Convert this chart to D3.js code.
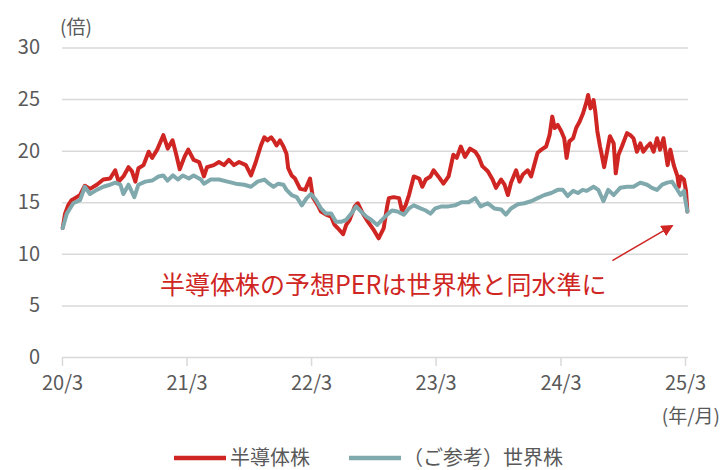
<!DOCTYPE html>
<html>
<head>
<meta charset="utf-8">
<script src="https://cdn.jsdelivr.net/npm/d3@7"></script>
<style>
  body { margin: 0; background: #fff; }
  svg { display: block; }
  text { font-family: "Noto Sans CJK JP", "Noto Sans", sans-serif; }
</style>
</head>
<body>
<div id="chart"></div>
<script>
// 半導体株 forward PER
const semiDates = ["2020-03-03","2020-03-10","2020-03-19","2020-03-29","2020-04-13","2020-04-23","2020-05-07","2020-05-22","2020-06-11","2020-06-30",
  "2020-07-20","2020-08-04","2020-08-14","2020-08-28","2020-09-12","2020-09-22","2020-10-02","2020-10-11","2020-10-26","2020-11-10",
  "2020-11-20","2020-12-05","2020-12-23","2021-01-05","2021-01-19","2021-01-30","2021-02-09","2021-02-23","2021-03-06","2021-03-22",
  "2021-04-07","2021-04-21","2021-04-30","2021-05-20","2021-06-04","2021-06-19","2021-07-03","2021-07-18","2021-08-02","2021-08-22",
  "2021-09-06","2021-09-20","2021-10-05","2021-10-15","2021-10-24","2021-11-04","2021-11-11","2021-11-20","2021-11-30","2021-12-10",
  "2021-12-19","2021-12-24","2022-01-03","2022-01-13","2022-01-28","2022-02-12","2022-02-26","2022-03-06","2022-03-21","2022-03-30",
  "2022-04-14","2022-04-29","2022-05-09","2022-05-18","2022-06-03","2022-06-12","2022-06-22","2022-07-07","2022-07-16","2022-07-31",
  "2022-08-15","2022-08-30","2022-09-15","2022-09-30","2022-10-10","2022-10-15","2022-10-29","2022-11-14","2022-11-23","2022-12-03",
  "2022-12-13","2022-12-27","2023-01-12","2023-01-21","2023-01-31","2023-02-14","2023-02-23","2023-03-09","2023-03-24","2023-04-08",
  "2023-04-22","2023-05-02","2023-05-14","2023-05-26","2023-06-10","2023-06-25","2023-07-05","2023-07-16","2023-08-01","2023-08-15",
  "2023-08-25","2023-09-09","2023-09-19","2023-09-29","2023-10-08","2023-10-23","2023-11-02","2023-11-12","2023-11-26","2023-12-06",
  "2023-12-15","2023-12-25","2024-01-05","2024-01-19","2024-01-29","2024-02-06","2024-02-13","2024-02-22","2024-03-03","2024-03-12",
  "2024-03-19","2024-03-27","2024-04-07","2024-04-16","2024-04-26","2024-05-06","2024-05-17","2024-05-21","2024-05-28","2024-06-06",
  "2024-06-11","2024-06-17","2024-06-25","2024-06-30","2024-07-07","2024-07-15","2024-07-24","2024-08-04","2024-08-10","2024-08-18",
  "2024-08-28","2024-09-12","2024-09-22","2024-10-01","2024-10-11","2024-10-21","2024-10-30","2024-11-10","2024-11-19","2024-11-29",
  "2024-12-09","2024-12-18","2024-12-28","2025-01-09","2025-01-17","2025-01-27","2025-02-07","2025-02-11","2025-02-16","2025-02-26",
  "2025-03-04","2025-03-08"];
const semiPer = [12.5,13.9,14.7,15.2,15.5,15.7,16.6,16.3,16.7,17.2,
  17.3,18.1,17.0,17.5,18.4,18.0,17.0,18.3,18.6,19.9,
  19.3,20.1,21.5,20.2,21.0,19.6,18.2,19.4,20.1,19.1,
  18.9,17.5,18.4,18.6,18.9,18.6,19.1,18.6,18.9,18.6,
  17.6,18.9,20.5,21.3,21.0,21.3,21.0,20.5,21.0,20.4,
  19.7,18.3,17.6,17.3,16.3,16.2,17.3,15.5,14.7,14.1,
  13.8,13.6,12.8,12.5,11.9,12.8,13.3,14.6,14.9,13.9,
  13.1,12.4,11.5,12.5,14.6,15.4,15.5,15.4,14.1,14.7,
  15.7,17.5,17.3,16.5,17.2,17.5,18.1,17.5,16.8,17.5,
  19.6,19.3,20.4,19.4,20.2,19.9,19.4,18.5,18.0,17.2,
  16.4,17.2,16.7,15.7,16.9,18.1,17.0,17.7,18.1,17.5,
  18.6,19.8,20.1,20.4,21.5,23.3,22.2,22.5,21.9,21.2,
  19.3,20.9,21.2,22.2,22.8,23.6,24.8,25.4,24.1,24.9,
  23.8,21.9,20.4,19.6,18.4,19.8,21.4,20.7,17.8,19.6,
  20.4,21.7,21.5,21.2,19.9,20.7,19.9,20.4,20.7,19.9,
  21.2,20.1,21.2,18.6,20.1,18.6,17.5,16.5,17.5,17.2,
  16.1,14.1];

// （ご参考）世界株 forward PER
const worldDates = ["2020-03-03","2020-03-15","2020-04-03","2020-04-23","2020-05-07","2020-05-22","2020-06-11","2020-06-30","2020-07-20","2020-08-04",
  "2020-08-19","2020-08-28","2020-09-12","2020-09-29","2020-10-11","2020-10-31","2020-11-20","2020-12-09","2020-12-23","2021-01-04",
  "2021-01-20","2021-02-04","2021-02-18","2021-03-08","2021-03-22","2021-04-12","2021-04-21","2021-05-11","2021-06-04","2021-06-29",
  "2021-07-23","2021-08-17","2021-09-06","2021-09-25","2021-10-15","2021-10-29","2021-11-11","2021-11-25","2021-12-10","2021-12-19",
  "2022-01-03","2022-01-18","2022-02-02","2022-02-16","2022-03-01","2022-03-16","2022-03-30","2022-04-14","2022-04-29","2022-05-13",
  "2022-05-28","2022-06-12","2022-06-27","2022-07-11","2022-07-26","2022-08-10","2022-08-24","2022-09-11","2022-09-25","2022-10-10",
  "2022-10-24","2022-11-09","2022-11-28","2022-12-13","2022-12-27","2023-01-16","2023-01-31","2023-02-14","2023-02-28","2023-03-19",
  "2023-04-08","2023-04-27","2023-05-16","2023-06-06","2023-06-25","2023-07-11","2023-08-01","2023-08-20","2023-09-09","2023-09-23",
  "2023-10-08","2023-10-28","2023-11-16","2023-12-06","2023-12-25","2024-01-14","2024-02-03","2024-02-22","2024-03-08","2024-03-22",
  "2024-04-07","2024-04-21","2024-05-05","2024-05-17","2024-06-06","2024-06-20","2024-07-05","2024-07-19","2024-08-04","2024-08-23",
  "2024-09-12","2024-10-01","2024-10-21","2024-11-10","2024-11-24","2024-12-09","2024-12-24","2025-01-08","2025-01-22","2025-02-01",
  "2025-02-16","2025-02-26","2025-03-01","2025-03-08"];
const worldPer = [12.5,13.9,14.9,15.2,16.5,15.8,16.2,16.5,16.7,16.9,
  16.7,15.8,16.7,15.5,16.7,17.0,17.1,17.5,17.6,17.1,
  17.6,17.2,17.6,17.3,17.6,17.2,16.8,17.2,17.2,17.0,
  16.8,16.7,16.5,17.0,17.2,16.8,16.5,16.8,16.7,16.2,
  15.7,15.5,14.7,15.4,15.8,15.2,14.4,13.9,13.9,13.1,
  13.1,13.3,13.9,14.6,14.1,13.6,13.3,12.8,13.3,13.8,
  14.2,14.1,13.8,14.4,14.7,14.4,14.2,13.9,14.4,14.6,
  14.6,14.7,15.0,15.0,15.4,14.6,14.9,14.4,14.3,13.8,
  14.4,14.8,14.9,15.1,15.4,15.7,15.9,16.2,16.2,15.6,
  16.1,15.9,16.2,16.1,16.5,16.2,15.1,16.2,15.7,16.4,
  16.5,16.5,16.9,16.7,16.4,16.2,16.7,16.9,17.0,16.5,
  15.7,16.1,15.4,14.1];

const yTicks = [0, 5, 10, 15, 20, 25, 30];
const xTickDates = ["2020-03-01","2021-03-01","2022-03-01","2023-03-01","2024-03-01","2025-03-01"];
const xTickLabels = ["20/3","21/3","22/3","23/3","24/3","25/3"];
const seriesNames = ["半導体株", "（ご参考）世界株"];
const seriesColors = ["#cf2623", "#80a9ad"];
const noteText = "半導体株の予想PERは世界株と同水準に";

const width = 721, height = 470;
const margin = { top: 47.5, right: 36, bottom: 113, left: 62 };
const parse = d3.utcParse("%Y-%m-%d");

const x = d3.scaleUtc()
  .domain([parse(xTickDates[0]), parse(xTickDates[xTickDates.length - 1])])
  .range([margin.left, width - margin.right]);
const y = d3.scaleLinear()
  .domain([0, 30])
  .range([height - margin.bottom, margin.top]);

const series = [
  semiDates.map((d, i) => ({ date: parse(d), value: semiPer[i] })),
  worldDates.map((d, i) => ({ date: parse(d), value: worldPer[i] }))
];

const svg = d3.select("#chart").append("svg")
  .attr("width", width)
  .attr("height", height)
  .attr("viewBox", [0, 0, width, height]);

// grid + y labels
svg.append("g")
  .attr("transform", `translate(${margin.left},0)`)
  .call(d3.axisLeft(y).tickValues(yTicks).tickSize(-(width - margin.right - margin.left + 3)).tickPadding(22))
  .call(g => g.select(".domain").remove())
  .call(g => g.selectAll(".tick line").attr("stroke", "#d9d9d9").attr("stroke-width", 1.5))
  .call(g => g.selectAll(".tick text").attr("fill", "#595959").style("font-size", "20px"));

// x axis ticks + labels
svg.append("g")
  .attr("transform", `translate(0,${y(0)})`)
  .call(d3.axisBottom(x).tickValues(xTickDates.map(parse)).tickFormat((d, i) => xTickLabels[i]).tickSize(9).tickPadding(10))
  .call(g => g.select(".domain").remove())
  .call(g => g.selectAll(".tick line").attr("stroke", "#d9d9d9").attr("stroke-width", 1.5))
  .call(g => g.selectAll(".tick text").attr("fill", "#595959").style("font-size", "20px"));

svg.append("text")
  .attr("x", 60).attr("y", 34)
  .attr("fill", "#595959")
  .style("font-size", "19px")
  .text("(倍)");

svg.append("text")
  .attr("x", width - 1).attr("y", 423)
  .attr("text-anchor", "end")
  .attr("fill", "#595959")
  .style("font-size", "19px")
  .text("(年/月)");

const line = d3.line()
  .x(d => x(d.date))
  .y(d => y(d.value));

svg.append("g")
  .attr("fill", "none")
  .attr("stroke-width", 4)
  .attr("stroke-linejoin", "round")
  .attr("stroke-linecap", "round")
  .selectAll("path")
  .data(series)
  .join("path")
  .attr("stroke", (d, i) => seriesColors[i])
  .attr("d", line);

// annotation
const last = series[0][series[0].length - 1];
const tip = [x(last.date) - 15, y(last.value) + 14];

svg.append("defs").append("marker")
  .attr("id", "arrow")
  .attr("viewBox", "0 0 10 10")
  .attr("refX", 9).attr("refY", 5)
  .attr("markerWidth", 8).attr("markerHeight", 8)
  .attr("orient", "auto")
  .append("path")
  .attr("d", "M0,0L10,5L0,10z")
  .attr("fill", seriesColors[0]);

svg.append("line")
  .attr("x1", tip[0] - 60).attr("y1", tip[1] + 35)
  .attr("x2", tip[0]).attr("y2", tip[1])
  .attr("stroke", seriesColors[0])
  .attr("stroke-width", 1.5)
  .attr("marker-end", "url(#arrow)");

svg.append("text")
  .attr("x", 160).attr("y", 294)
  .attr("fill", seriesColors[0])
  .style("font-size", "25px")
  .text(noteText);

// legend
const legend = svg.append("g").attr("transform", "translate(0,458)");
const legendX = [174, 349];
seriesNames.forEach((name, i) => {
  const g = legend.append("g").attr("transform", `translate(${legendX[i]},0)`);
  g.append("line")
    .attr("x1", 0).attr("x2", 52)
    .attr("stroke", seriesColors[i])
    .attr("stroke-width", 4.5);
  g.append("text")
    .attr("x", i === 0 ? 56 : 54)
    .attr("dy", "0.35em")
    .attr("fill", "#595959")
    .style("font-size", "20px")
    .text(name);
});
</script>
</body>
</html>
